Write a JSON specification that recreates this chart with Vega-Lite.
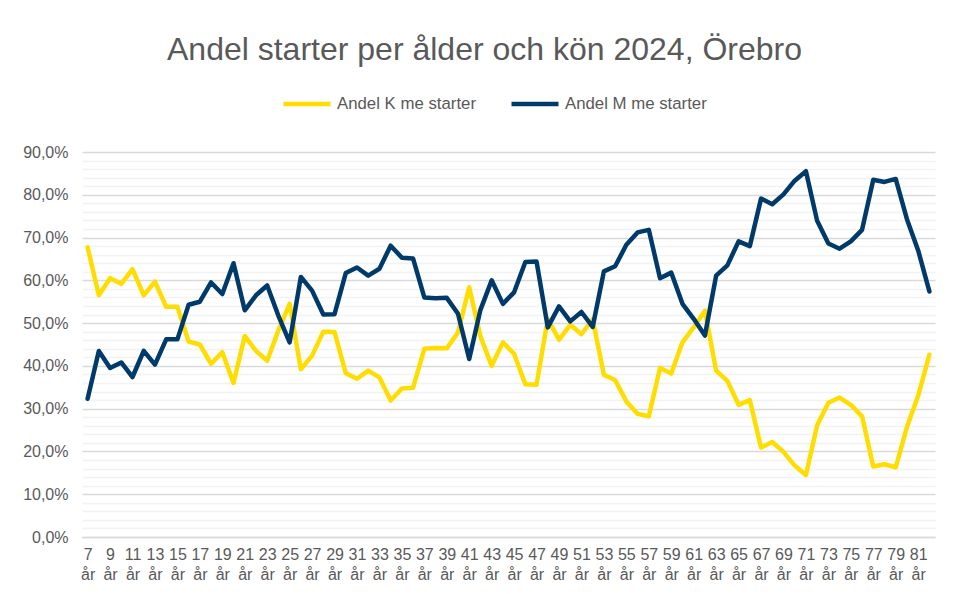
{
  "$schema": "https://vega.github.io/schema/vega-lite/v6.json",
  "autosize": {"type": "none"},
  "width": 853,
  "height": 385,
  "padding": {"left": 82, "top": 152, "right": 20, "bottom": 57},
  "background": "white",
  "config": {
    "locale": {"number": {"decimal": ",", "thousands": " ", "grouping": [3], "currency": ["", " kr"]}},
    "font": "Liberation Sans",
    "view": {"stroke": null}
  },
  "title": {
    "text": "Andel starter per ålder och kön 2024, Örebro",
    "frame": "group",
    "anchor": "middle",
    "dx": -24,
    "offset": 11,
    "fontSize": 32,
    "fontWeight": "normal",
    "color": "#595959",
    "font": "Liberation Sans"
  },
  "data": {
    "values": [
      {"age": 7, "K": 0.677, "M": 0.323},
      {"age": 8, "K": 0.565, "M": 0.435},
      {"age": 9, "K": 0.605, "M": 0.395},
      {"age": 10, "K": 0.592, "M": 0.408},
      {"age": 11, "K": 0.626, "M": 0.374},
      {"age": 12, "K": 0.565, "M": 0.435},
      {"age": 13, "K": 0.597, "M": 0.403},
      {"age": 14, "K": 0.538, "M": 0.462},
      {"age": 15, "K": 0.538, "M": 0.462},
      {"age": 16, "K": 0.457, "M": 0.543},
      {"age": 17, "K": 0.450, "M": 0.550},
      {"age": 18, "K": 0.405, "M": 0.595},
      {"age": 19, "K": 0.432, "M": 0.568},
      {"age": 20, "K": 0.360, "M": 0.640},
      {"age": 21, "K": 0.470, "M": 0.530},
      {"age": 22, "K": 0.435, "M": 0.565},
      {"age": 23, "K": 0.412, "M": 0.588},
      {"age": 24, "K": 0.483, "M": 0.517},
      {"age": 25, "K": 0.545, "M": 0.455},
      {"age": 26, "K": 0.392, "M": 0.608},
      {"age": 27, "K": 0.424, "M": 0.576},
      {"age": 28, "K": 0.480, "M": 0.520},
      {"age": 29, "K": 0.479, "M": 0.521},
      {"age": 30, "K": 0.383, "M": 0.617},
      {"age": 31, "K": 0.370, "M": 0.630},
      {"age": 32, "K": 0.389, "M": 0.611},
      {"age": 33, "K": 0.373, "M": 0.627},
      {"age": 34, "K": 0.319, "M": 0.681},
      {"age": 35, "K": 0.347, "M": 0.653},
      {"age": 36, "K": 0.349, "M": 0.651},
      {"age": 37, "K": 0.440, "M": 0.560},
      {"age": 38, "K": 0.442, "M": 0.558},
      {"age": 39, "K": 0.441, "M": 0.559},
      {"age": 40, "K": 0.478, "M": 0.522},
      {"age": 41, "K": 0.584, "M": 0.416},
      {"age": 42, "K": 0.469, "M": 0.531},
      {"age": 43, "K": 0.400, "M": 0.600},
      {"age": 44, "K": 0.455, "M": 0.545},
      {"age": 45, "K": 0.428, "M": 0.572},
      {"age": 46, "K": 0.357, "M": 0.643},
      {"age": 47, "K": 0.356, "M": 0.644},
      {"age": 48, "K": 0.510, "M": 0.490},
      {"age": 49, "K": 0.461, "M": 0.539},
      {"age": 50, "K": 0.496, "M": 0.504},
      {"age": 51, "K": 0.474, "M": 0.526},
      {"age": 52, "K": 0.509, "M": 0.491},
      {"age": 53, "K": 0.379, "M": 0.621},
      {"age": 54, "K": 0.367, "M": 0.633},
      {"age": 55, "K": 0.317, "M": 0.683},
      {"age": 56, "K": 0.288, "M": 0.712},
      {"age": 57, "K": 0.282, "M": 0.718},
      {"age": 58, "K": 0.395, "M": 0.605},
      {"age": 59, "K": 0.382, "M": 0.618},
      {"age": 60, "K": 0.455, "M": 0.545},
      {"age": 61, "K": 0.490, "M": 0.510},
      {"age": 62, "K": 0.529, "M": 0.471},
      {"age": 63, "K": 0.389, "M": 0.611},
      {"age": 64, "K": 0.365, "M": 0.635},
      {"age": 65, "K": 0.309, "M": 0.691},
      {"age": 66, "K": 0.320, "M": 0.680},
      {"age": 67, "K": 0.209, "M": 0.791},
      {"age": 68, "K": 0.222, "M": 0.778},
      {"age": 69, "K": 0.199, "M": 0.801},
      {"age": 70, "K": 0.167, "M": 0.833},
      {"age": 71, "K": 0.145, "M": 0.855},
      {"age": 72, "K": 0.261, "M": 0.739},
      {"age": 73, "K": 0.314, "M": 0.686},
      {"age": 74, "K": 0.326, "M": 0.674},
      {"age": 75, "K": 0.309, "M": 0.691},
      {"age": 76, "K": 0.282, "M": 0.718},
      {"age": 77, "K": 0.165, "M": 0.835},
      {"age": 78, "K": 0.170, "M": 0.830},
      {"age": 79, "K": 0.163, "M": 0.837},
      {"age": 80, "K": 0.257, "M": 0.743},
      {"age": 81, "K": 0.330, "M": 0.670},
      {"age": 82, "K": 0.426, "M": 0.574}
    ]
  },
  "transform": [
    {"fold": ["K", "M"], "as": ["serie", "andel"]}
  ],
  "mark": {"type": "line", "strokeWidth": 4.5, "strokeJoin": "round", "strokeCap": "round"},
  "encoding": {
    "x": {
      "field": "age",
      "type": "ordinal",
      "sort": "ascending",
      "scale": {"type": "point", "padding": 0.5},
      "axis": {
        "title": null,
        "labelAngle": 0,
        "labelExpr": "datum.value % 2 == 1 ? [datum.value + '', 'år'] : ''",
        "labelFontSize": 16,
        "labelColor": "#595959",
        "labelPadding": 9,
        "labelLineHeight": 20,
        "labelOverlap": false,
        "ticks": false,
        "domain": true,
        "domainColor": "#d9d9d9",
        "domainWidth": 1.3,
        "grid": false
      }
    },
    "y": {
      "field": "andel",
      "type": "quantitative",
      "scale": {"domain": [0, 0.9], "nice": false, "zero": true},
      "axis": {
        "title": null,
        "values": [0, 0.02, 0.04, 0.06, 0.08, 0.1, 0.12, 0.14, 0.16, 0.18, 0.2, 0.22, 0.24, 0.26, 0.28, 0.3, 0.32, 0.34, 0.36, 0.38, 0.4, 0.42, 0.44, 0.46, 0.48, 0.5, 0.52, 0.54, 0.56, 0.58, 0.6, 0.62, 0.64, 0.66, 0.68, 0.7, 0.72, 0.74, 0.76, 0.78, 0.8, 0.82, 0.84, 0.86, 0.88, 0.9],
        "format": ".1%",
        "labelExpr": "round(datum.value * 100) % 10 == 0 ? datum.label : ''",
        "labelFontSize": 16,
        "labelColor": "#595959",
        "labelPadding": 14,
        "labelOverlap": false,
        "ticks": false,
        "domain": false,
        "grid": true,
        "gridWidth": 1.3,
        "gridColor": {"condition": {"test": "round(datum.value * 100) % 10 == 0", "value": "#d9d9d9"}, "value": "#f2f2f2"}
      }
    },
    "color": {
      "field": "serie",
      "type": "nominal",
      "scale": {"domain": ["K", "M"], "range": ["#FFDD00", "#003A6B"]},
      "legend": {
        "title": null,
        "orient": "none",
        "legendX": 199,
        "legendY": -74,
        "direction": "horizontal",
        "symbolType": "stroke",
        "symbolSize": 2209,
        "symbolStrokeWidth": 4.5,
        "labelFontSize": 16.8,
        "labelColor": "#595959",
        "labelOffset": 4,
        "columnPadding": 26,
        "labelLimit": 300,
        "labelExpr": "datum.value == 'K' ? 'Andel K me starter' : 'Andel M me starter'"
      }
    }
  }
}
